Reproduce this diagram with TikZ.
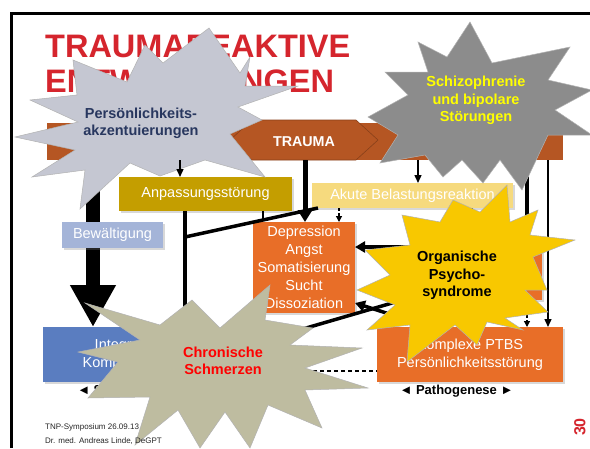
\documentclass[tikz,border=0pt]{standalone}
\usepackage{fontspec}
\setmainfont{Liberation Sans}
\usetikzlibrary{arrows.meta,calc,shadows}
\definecolor{titlered}{HTML}{D5252D}
\definecolor{brn}{HTML}{B55623}
\definecolor{anpcol}{HTML}{C49E00}
\definecolor{akucol}{HTML}{F6DA7E}
\definecolor{bewcol}{HTML}{A4B4D8}
\definecolor{orng}{HTML}{E86E28}
\definecolor{blu}{HTML}{5A7DC0}
\definecolor{starA}{HTML}{C5C7D2}
\definecolor{starB}{HTML}{8C8C8C}
\definecolor{starC}{HTML}{F8C800}
\definecolor{starD}{HTML}{BEBCA0}
\definecolor{navy}{HTML}{28375F}
\definecolor{yel}{HTML}{FFFF00}
\definecolor{redtxt}{HTML}{FF0000}
\begin{document}
\begin{tikzpicture}[x=1pt,y=-1pt,
  box/.style={inner sep=0pt, outer sep=0pt, text=white, align=center,
    font=\fontsize{14.5}{18}\selectfont,
    drop shadow={opacity=0.3, shadow xshift=1.5pt, shadow yshift=-1.5pt}},
  startext/.style={align=center, font=\fontsize{14.5}{17.5}\bfseries\selectfont},
  staredge/.style={draw=black!30, line width=0.5pt},
  thinarr/.style={line width=1.4pt, -{Triangle[width=7pt,length=8pt]}},
  medarr/.style={line width=3.5pt, -{Triangle[width=11pt,length=10pt]}},
  thickarr/.style={line width=5pt, -{Triangle[width=14pt,length=12pt]}},
  dasharr/.style={line width=1.2pt, dash pattern=on 3pt off 2pt, -{Triangle[width=6pt,length=6pt]}},
  bigarr/.style={line width=14pt, -{Triangle[width=43pt,length=42pt]}},
  lbl/.style={font=\fontsize{13}{15}\bfseries\selectfont}
]
\useasboundingbox (0,0) rectangle (590,448);
\fill[white] (0,0) rectangle (590,448);
\draw[line width=3pt] (11,448) -- (11,13.5) -- (590,13.5);

% title
\node[anchor=base west, inner sep=0, text=titlered, font=\fontsize{32.5}{35}\bfseries\selectfont] (t1) at (45,57) {TRAUMAREAKTIVE};
\node[anchor=base west, inner sep=0, text=titlered, font=\fontsize{32.5}{35}\bfseries\selectfont] (t2) at (45,92) {ENTWICKLUNGEN};

% trauma bar
\node[fill=brn, minimum width=516pt, minimum height=37pt, inner sep=0] (bar) at (305,141.5) {};
\fill[brn, draw=brn!75!black, line width=0.6pt] (230,140) -- (252,120) -- (356,120) -- (378,140) -- (356,160) -- (252,160) -- cycle;
\node[text=white, font=\fontsize{14.3}{17}\bfseries\selectfont] (trauma) at (304,142) {TRAUMA};

% boxes
\node[box, fill=anpcol, minimum width=173pt, minimum height=34pt] (anp) at (205.5,194) {Anpassungsstörung};
\node[box, fill=akucol, minimum width=201pt, minimum height=25pt] (aku) at (412.5,195.5) {Akute Belastungsreaktion};
\node[box, fill=orng, minimum width=102pt, minimum height=91pt] (dep) at (304,267.5) {Depression\\Angst\\Somatisierung\\Sucht\\Dissoziation};
\node[box, fill=blu, minimum width=172pt, minimum height=55pt] (integ) at (129,354.5) {Integration\\Kompensation};
\node[box, fill=orng, minimum width=186pt, minimum height=55pt] (ptbs) at (470,354.5) {Komplexe PTBS\\Persönlichkeitsstörung};
\node[box, fill=orng, minimum width=112pt, minimum height=63pt] (hid) at (486,268.5) {};

% big arrow
\coordinate (xA) at (93,0);
\draw[bigarr] (xA |- bar.south) -- (xA |- integ.north);
\node[box, fill=bewcol, minimum width=101pt, minimum height=26pt] (bew) at (112.5,235) {Bewältigung};

% connectors
\coordinate (xC) at (185,0);
\draw[medarr] (xC |- anp.south) -- (xC |- integ.north);
\coordinate (d1) at (185,237);
\coordinate (d2) at ($(aku.south west)+(6,0)$);
\draw[line width=3.5pt] (d1) -- (d2);
\path (d1) -- (d2) coordinate[pos=0.5865] (d3);
\draw[line width=2pt] (d3 |- anp.south) -- (d3);
\coordinate (xE) at (305,0);
\draw[thickarr] (xE |- bar.south) -- (xE |- dep.north);
\coordinate (xF) at (339,0);
\draw[dasharr] (xF |- aku.south) -- (xF |- dep.north);
\coordinate (xH) at (527,0);
\draw[line width=4pt] (xH |- bar.south) -- (xH |- hid.north);
\coordinate (xI) at (548,0);
\draw[thinarr] (xI |- bar.south) -- (xI |- ptbs.north);
\draw[dasharr] (xH |- hid.south) -- (xH |- ptbs.north);
\coordinate (xJ) at (472,0);
\draw[dasharr] (xJ |- aku.south) -- (xJ |- hid.north);
\coordinate (yK) at (0,247);
\draw[medarr] (hid.west |- yK) -- (dep.east |- yK);
\coordinate (k1) at ($(hid.south west)+(0,-8)$);
\draw[line width=3.5pt] (integ.east) -- (k1);
\coordinate (k2) at ($(ptbs.north west)+(53,0)$);
\coordinate (k3) at ($(dep.south east)+(0,-10)$);
\draw[medarr] (k2) -- (k3);
\coordinate (yL) at (0,371);
\draw[line width=1.3pt, dash pattern=on 4pt off 3pt] (integ.east |- yL) -- (ptbs.west |- yL);

% bottom labels
\node[lbl] (saluto) at (136,391) {◄ Salutogenese ►};
\node[lbl] (patho) at (456.5,391) {◄ Pathogenese ►};

% star 1
\fill[starA, staredge] (209,28) -- (240,73) -- (250,57) -- (245,86) -- (298,86) -- (238,107) -- (262,120) -- (230,134) -- (265,177) -- (205,160) -- (160,176) -- (130,163) -- (80,209) -- (85,170) -- (32,177) -- (75,150) -- (15,137) -- (78,122) -- (30,100) -- (77,95) -- (73,60) -- (127,82) -- (145,45) -- (163,63) -- cycle;
\node[startext, text=navy] (sA) at (141,123.5) {Persönlichkeits-\\akzentuierungen};

% star 2
\fill[starB, staredge] (470,22) -- (492,63) -- (570,47) -- (548,80) -- (592,90) -- (555,110) -- (592,135) -- (548,135) -- (522,190) -- (500,160) -- (483,183) -- (462,160) -- (443,177) -- (425,155) -- (380,163) -- (398,135) -- (368,117) -- (408,95) -- (385,72) -- (428,72) -- (418,42) -- (447,57) -- cycle;
\node[startext, text=yel] (sB) at (476,100.5) {Schizophrenie\\und bipolare\\Störungen};

% star 3
\fill[starC, staredge] (507,185) -- (510,222) -- (538,210) -- (530,235) -- (575,240) -- (533,257) -- (547,290) -- (525,290) -- (548,312) -- (505,318) -- (523,330) -- (487,322) -- (477,345) -- (455,325) -- (407,362) -- (410,325) -- (367,330) -- (395,305) -- (357,290) -- (390,275) -- (365,250) -- (410,245) -- (402,215) -- (440,222) -- (453,200) -- (480,212) -- cycle;
\node[startext, text=black] (sC) at (457,275.5) {Organische\\Psycho-\\syndrome};

% star 4
\fill[starD, staredge] (85,303) -- (160,325) -- (192,300) -- (220,328) -- (270,285) -- (265,320) -- (313,328) -- (290,345) -- (362,348) -- (305,368) -- (368,388) -- (305,390) -- (322,428) -- (268,405) -- (250,448) -- (225,412) -- (200,448) -- (178,410) -- (135,445) -- (150,397) -- (88,398) -- (118,362) -- (78,352) -- (140,340) -- cycle;
\node[startext, text=redtxt] (sD) at (223,361) {Chronische\\Schmerzen};

% arrows drawn over the stars
\coordinate (xB) at (180,0);
\draw[thinarr] (xB |- bar.south) -- (xB |- anp.north);
\coordinate (xG) at (418,0);
\draw[thinarr] (xG |- bar.south) -- (xG |- aku.north);

% footer
\node[anchor=base west, inner sep=0, text=black!85, font=\fontsize{8}{9.6}\selectfont] (f1) at (45,429) {TNP-Symposium 26.09.13};
\node[anchor=base west, inner sep=0, text=black!85, font=\fontsize{8}{9.6}\selectfont] (f2) at (45,443) {Dr. med. Andreas Linde, DeGPT};
\node[rotate=90, inner sep=0, text=titlered, font=\fontsize{16}{16}\bfseries\selectfont] (pg) at (580,427) {30};
\end{tikzpicture}
\end{document}
